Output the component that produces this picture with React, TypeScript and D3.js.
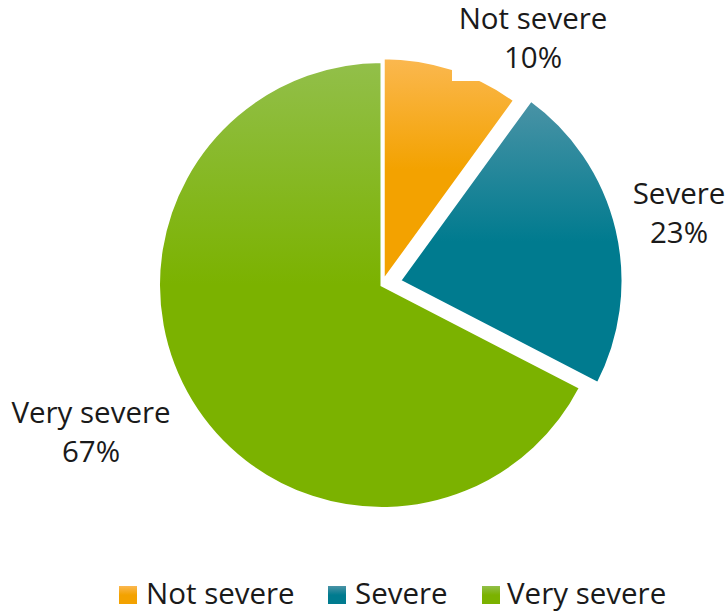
import React from "react";
import * as d3 from "d3";

const categories = ["Not severe", "Severe", "Very severe"];
const values = [10, 22.6, 67.4];
const percentLabels = ["10%", "23%", "67%"];
const baseColors = ["#F3A200", "#007B8F", "#7BB200"];
const lightColors = ["#FBB850", "#4A93A6", "#92BF4A"];
const explode = [4, 18, 0];

const W = 728;
const H = 613;
const cx = 382;
const cy = 285;
const R = 223.5;
const FONT = "'Open Sans', 'Noto Sans', sans-serif";
const FS = 29.5;

const labelPos = [
  { x: 533, y: 29 },
  { x: 679, y: 204 },
  { x: 91, y: 423 },
];
const lineGap = 39;

const legendItems = [
  { sx: 119, tx: 146 },
  { sx: 328, tx: 355 },
  { sx: 482, tx: 507 },
];

export default function App() {
  const pie = d3
    .pie<number>()
    .sort(null)
    .value((d) => d)
    .startAngle(0)
    .endAngle(2 * Math.PI);
  const arcs = pie(values);
  const arc = d3.arc<d3.PieArcDatum<number>>().innerRadius(0).outerRadius(R);

  return (
    <svg
      width={W}
      height={H}
      style={{ position: "absolute", left: 0, top: 0, background: "#fff" }}
      fontFamily={FONT}
    >
      <defs>
        {categories.map((c, i) => (
          <linearGradient key={c} id={`g${i}`} x1="0" y1="0" x2="0" y2="1">
            <stop offset="0" stopColor={lightColors[i]} />
            <stop offset="0.5" stopColor={baseColors[i]} />
            <stop offset="1" stopColor={baseColors[i]} />
          </linearGradient>
        ))}
      </defs>
      <g transform={`translate(${cx},${cy})`}>
        {arcs.map((a, i) => {
          const mid = (a.startAngle + a.endAngle) / 2;
          const dx = Math.sin(mid) * explode[i];
          const dy = -Math.cos(mid) * explode[i];
          return (
            <path
              key={categories[i]}
              d={arc(a) || ""}
              transform={`translate(${dx},${dy})`}
              fill={`url(#g${i})`}
              stroke="#fff"
              strokeWidth={3}
              strokeLinejoin="miter"
            />
          );
        })}
      </g>
      {/* label background for the top label */}
      <rect x={452} y={0} width={162} height={81} fill="#fff" />
      {categories.map((c, i) => (
        <text
          key={c}
          x={labelPos[i].x}
          y={labelPos[i].y}
          textAnchor="middle"
          fontSize={FS}
          fill="#1a1a1a"
        >
          <tspan x={labelPos[i].x}>{c}</tspan>
          <tspan x={labelPos[i].x} dy={lineGap}>
            {percentLabels[i]}
          </tspan>
        </text>
      ))}
      {categories.map((c, i) => (
        <g key={`lg${c}`}>
          <rect
            x={legendItems[i].sx}
            y={586}
            width={18}
            height={18}
            fill={`url(#g${i})`}
          />
          <text x={legendItems[i].tx} y={604} fontSize={FS} fill="#1a1a1a">
            {c}
          </text>
        </g>
      ))}
    </svg>
  );
}
